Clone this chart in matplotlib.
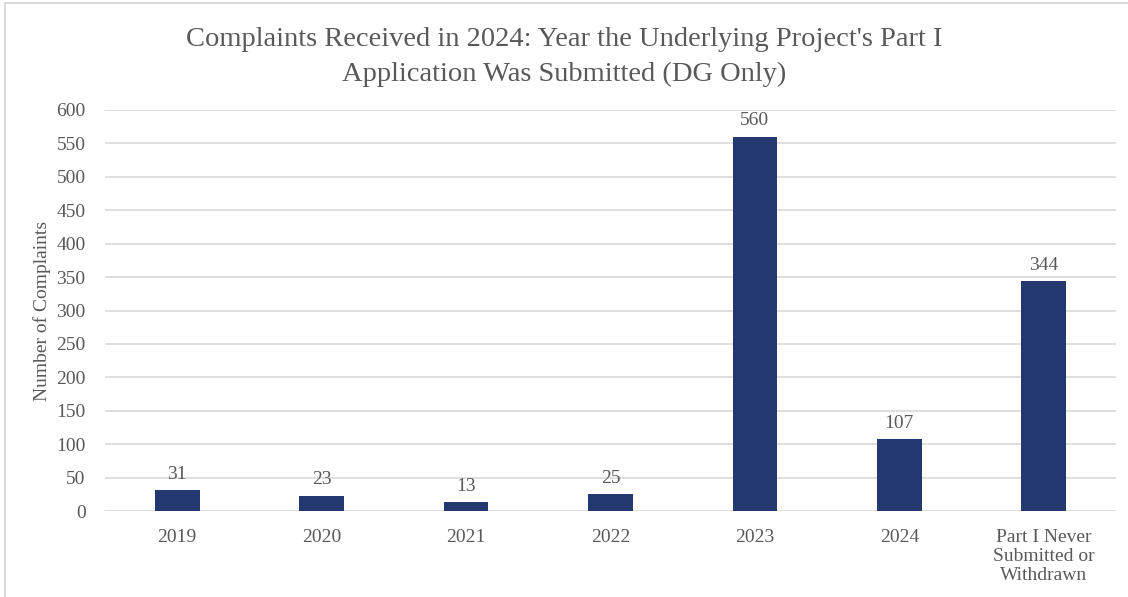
import matplotlib
matplotlib.use("Agg")
import matplotlib.pyplot as plt
from matplotlib.patches import Rectangle

categories = ["2019", "2020", "2021", "2022", "2023", "2024",
              "Part I Never\nSubmitted or\nWithdrawn"]
complaints = [31, 23, 13, 25, 560, 107, 344]
y_ticks = list(range(0, 601, 50))

BAR = "#22386E"
GRID = "#D9D9D9"
TEXT = "#595959"
FONT = "Liberation Serif"

fig = plt.figure(figsize=(11.28, 5.97), dpi=100)
fig.patches.append(Rectangle((5 / 1128, -0.1), 1.2, 1 - 3 / 597 + 0.1,
                             transform=fig.transFigure, fill=False,
                             edgecolor=GRID, linewidth=1.5))

ax = fig.add_axes([105 / 1128, 86 / 597, 1011 / 1128, 401 / 597])
x = range(len(categories))
bars = ax.bar(x, complaints, width=0.31, color=BAR, zorder=3)
for b, v in zip(bars, complaints):
    ax.text(b.get_x() + b.get_width() / 2, v + 11, str(v), ha="center",
            va="bottom", fontsize=14, color=TEXT, family=FONT)

ax.set_xlim(-0.5, len(categories) - 0.5)
ax.set_ylim(0, 600)
ax.set_yticks(y_ticks)
ax.set_xticks(list(x))
ax.set_xticklabels(categories, linespacing=1.15)
ax.grid(axis="y", color=GRID, linewidth=1.2, zorder=0)
for s in ax.spines.values():
    s.set_visible(False)
ax.tick_params(length=0, labelsize=14, labelcolor=TEXT)
for lbl in ax.get_xticklabels() + ax.get_yticklabels():
    lbl.set_family(FONT)
ax.tick_params(axis="x", pad=13)
ax.tick_params(axis="y", pad=14)
ax.set_ylabel("Number of Complaints", fontsize=14, color=TEXT, family=FONT,
              labelpad=4)

fig.text(0.5, 1 - 57 / 597, "Complaints Received in 2024: Year the Underlying Project's Part I\n"
         "Application Was Submitted (DG Only)", ha="center", va="center",
         fontsize=20.5, color=TEXT, family=FONT, linespacing=1.5)

fig.savefig("out.png", dpi=100)
